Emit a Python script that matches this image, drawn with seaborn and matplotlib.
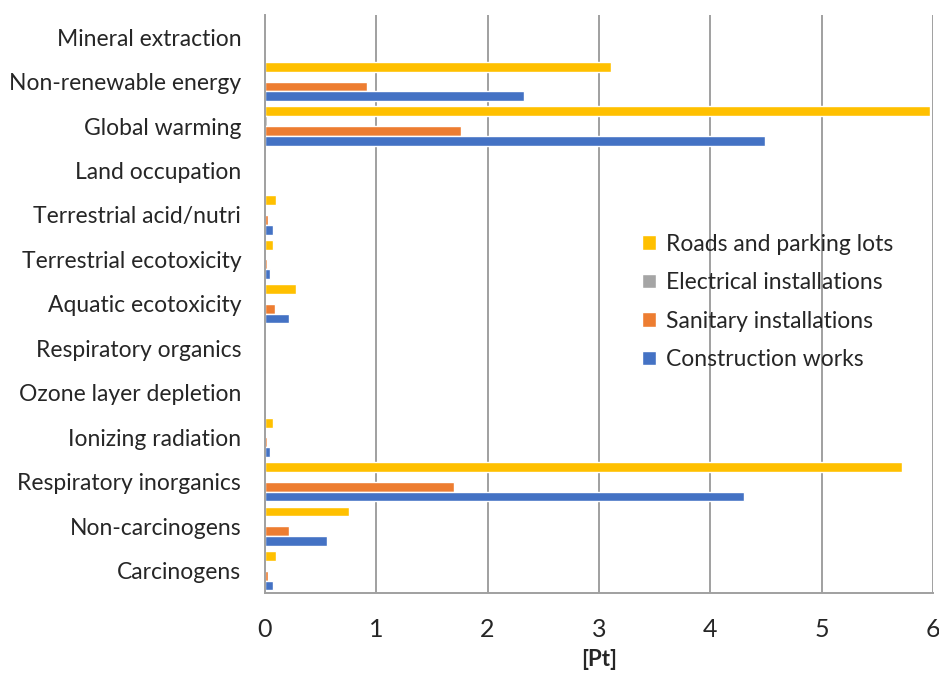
import numpy as np
import pandas as pd
import matplotlib
matplotlib.use("Agg")
import matplotlib.pyplot as plt
import seaborn as sns
from matplotlib.ticker import FixedLocator

categories = ["Mineral extraction", "Non-renewable energy", "Global warming", "Land occupation",
              "Terrestrial acid/nutri", "Terrestrial ecotoxicity", "Aquatic ecotoxicity",
              "Respiratory organics", "Ozone layer depletion", "Ionizing radiation",
              "Respiratory inorganics", "Non-carcinogens", "Carcinogens"]
series = ["Roads and parking lots", "Electrical installations", "Sanitary installations", "Construction works"]
roads = [0.0, 3.11, 5.97, 0.0, 0.10, 0.07, 0.28, 0.0, 0.0, 0.07, 5.72, 0.76, 0.10]
electrical = [0.0, 0.005, 0.02, 0.0, 0.002, 0.001, 0.004, 0.0, 0.0, 0.001, 0.015, 0.005, 0.002]
sanitary = [0.0, 0.92, 1.76, 0.0, 0.03, 0.02, 0.09, 0.0, 0.0, 0.02, 1.70, 0.22, 0.03]
construction = [0.0, 2.33, 4.49, 0.0, 0.07, 0.05, 0.22, 0.0, 0.0, 0.05, 4.30, 0.56, 0.07]
colors = ["#FFC000", "#A5A5A5", "#ED7D31", "#4472C4"]
xticks = [0, 1, 2, 3, 4, 5, 6]

rows = []
for s, vals in zip(series, [roads, electrical, sanitary, construction]):
    for c, v in zip(categories, vals):
        rows.append({"category": c, "series": s, "value": v})
df = pd.DataFrame(rows)

sns.set_style("white")
plt.rcParams["font.family"] = ["Lato", "DejaVu Sans"]

fig = plt.figure(figsize=(9.39, 6.75), dpi=100)
ax = fig.add_axes([0.282, 0.1215, 0.7116, 0.8565])
sns.barplot(data=df, y="category", x="value", hue="series", order=categories,
            hue_order=series, palette=colors, orient="h", width=0.88,
            saturation=1, ax=ax, errorbar=None)

ax.set_xlim(0, 6)
ax.set_ylim(len(categories) - 0.5, -0.5)
ax.set_xticks(xticks)
ax.set_xticklabels([str(t) for t in xticks], fontsize=18)
ax.xaxis.grid(True, color="#A0A0A0", linewidth=1.4)
ax.set_axisbelow(True)
ax.set_xlabel("[Pt]", fontsize=16, fontweight="bold", labelpad=6)
ax.set_ylabel("")
ax.tick_params(axis="y", which="major", length=0, labelsize=16.5, pad=17)
ax.yaxis.set_minor_locator(FixedLocator(np.arange(-0.5, len(categories), 1.0)))
ax.tick_params(axis="y", which="minor", length=8, color="#A0A0A0", width=1.4)
ax.tick_params(axis="x", length=0, pad=18)
for side in ["top", "right"]:
    ax.spines[side].set_visible(False)
for side in ["left", "bottom"]:
    ax.spines[side].set_color("#A0A0A0")
    ax.spines[side].set_linewidth(1.4)

ax.legend(loc="upper left", bbox_to_anchor=(0.534, 0.657), frameon=False, fontsize=16.5,
          handlelength=0.6, handleheight=0.6, handletextpad=0.45, labelspacing=0.76)

fig.savefig("out.png", dpi=100)
